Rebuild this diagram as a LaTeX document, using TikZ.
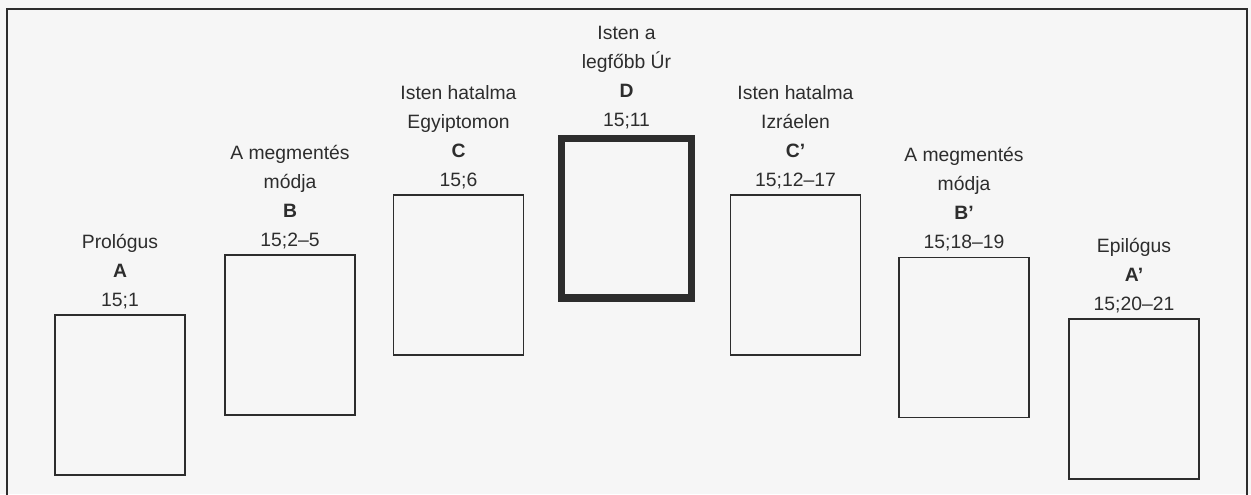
\documentclass[tikz,border=0pt]{standalone}
\usepackage{fontspec}
\setmainfont{Liberation Sans}
\usepackage{xcolor}
\usetikzlibrary{positioning}

\definecolor{ink}{RGB}{45,45,45}
\definecolor{paper}{RGB}{246,246,246}

\begin{document}
\begin{tikzpicture}[
    x=0.02cm, y=-0.02cm,
    part/.style={draw=ink, line width=1.1pt, minimum width=2.6cm,
        minimum height=3.2cm, inner sep=0pt},
    centre/.style={part, line width=4pt},
    caption/.style={align=center, text=ink, inner sep=0pt,
        font=\fontsize{11}{16.5}\selectfont},
    node distance=1mm,
]

    % page and outer frame (its lower edge runs off the picture)
    \useasboundingbox[fill=paper] (0,0) rectangle (1251,494);
    \draw[ink, line width=1pt] (7,500) -- (7,9) -- (1247,9) -- (1247,500);

    % =============================================================
    % The chiastic parts, rising to the centre D and falling again
    % =============================================================
    \node[part]   (prologus) at (120,395)   {};
    \node[part]   (modja)    at (290,335)   {};
    \node[part]   (egypt)    at (458.5,275) {};
    \node[centre] (ur)       at (626.5,218) {};
    \node[part]   (israel)   at (795.5,275) {};
    \node[part]   (modjab)   at (964,337.5) {};
    \node[part]   (epilogus) at (1134,399)  {};

    % captions above each part
    \node[caption, above=of prologus] (prologusT)
        {Prológus\\\textbf{A}\\15;1};
    \node[caption, above=of modja] (modjaT)
        {A megmentés\\módja\\\textbf{B}\\15;2–5};
    \node[caption, above=of egypt] (egyptT)
        {Isten hatalma\\Egyiptomon\\\textbf{C}\\15;6};
    \node[caption, above=of ur] (urT)
        {Isten a\\legfőbb Úr\\\textbf{D}\\15;11};
    \node[caption, above=of israel] (israelT)
        {Isten hatalma\\Izráelen\\\textbf{C’}\\15;12–17};
    \node[caption, above=of modjab] (modjabT)
        {A megmentés\\módja\\\textbf{B’}\\15;18–19};
    \node[caption, above=of epilogus] (epilogusT)
        {Epilógus\\\textbf{A’}\\15;20–21};

\end{tikzpicture}
\end{document}
